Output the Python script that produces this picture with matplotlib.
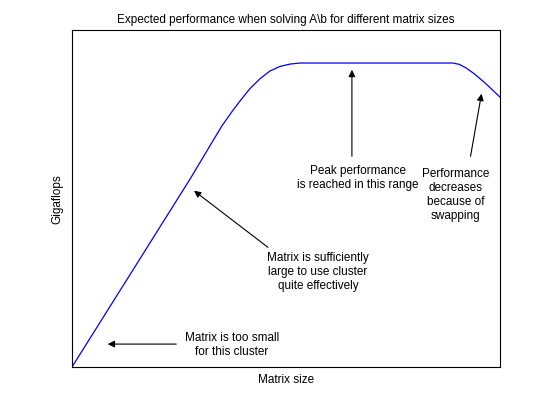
import matplotlib
matplotlib.use('Agg')
import matplotlib.pyplot as plt

# curve (arbitrary units)
size = [0, 2.76, 3.5, 3.75, 3.93, 4.15, 4.39, 4.62, 4.86, 5.1, 5.33, 8.9, 9.05, 9.2, 9.4, 9.65, 10]
gflops = [0, 5.58, 7.15, 7.6, 7.9, 8.25, 8.55, 8.78, 8.92, 8.99, 9.02, 9.02, 8.98, 8.88, 8.7, 8.43, 8.01]

notes = [
    ('Matrix is too small\nfor this cluster', (3.74, 0.68), (2.5, 0.68), (0.77, 0.68)),
    ('Matrix is sufficiently\nlarge to use cluster\nquite effectively', (5.75, 2.85), (4.63, 3.5), (2.8, 5.28)),
    ('Peak performance\nis reached in this range', (6.68, 5.64), (6.54, 6.17), (6.54, 8.9)),
    ('Performance\ndecreases\nbecause of\nswapping', (8.97, 5.13), (9.3, 6.17), (9.58, 8.19)),
]

plt.rcParams['font.family'] = ['Liberation Sans', 'DejaVu Sans']
fig = plt.figure(figsize=(5.52, 4.14), dpi=100)
ax = fig.add_axes([72/552, 1-368/414, 428/552, 337/414])
ax.plot(size, gflops, color='blue', linewidth=0.9)
ax.set_xlim(0, 10)
ax.set_ylim(0, 10)
ax.set_xticks([])
ax.set_yticks([])
ax.set_title('Expected performance when solving A\\b for different matrix sizes', fontsize=8.5, pad=6)
ax.set_xlabel('Matrix size', fontsize=8.5, labelpad=4)
ax.set_ylabel('Gigaflops', fontsize=8.5, labelpad=6)

for txt, pos, tail, head in notes:
    ax.text(pos[0], pos[1], txt, ha='center', va='center', fontsize=8.5, linespacing=1.2)
    ax.annotate('', xy=head, xytext=tail,
                arrowprops=dict(arrowstyle='-|>', color='black', lw=0.8, mutation_scale=10))

fig.savefig('out.png', dpi=100)
